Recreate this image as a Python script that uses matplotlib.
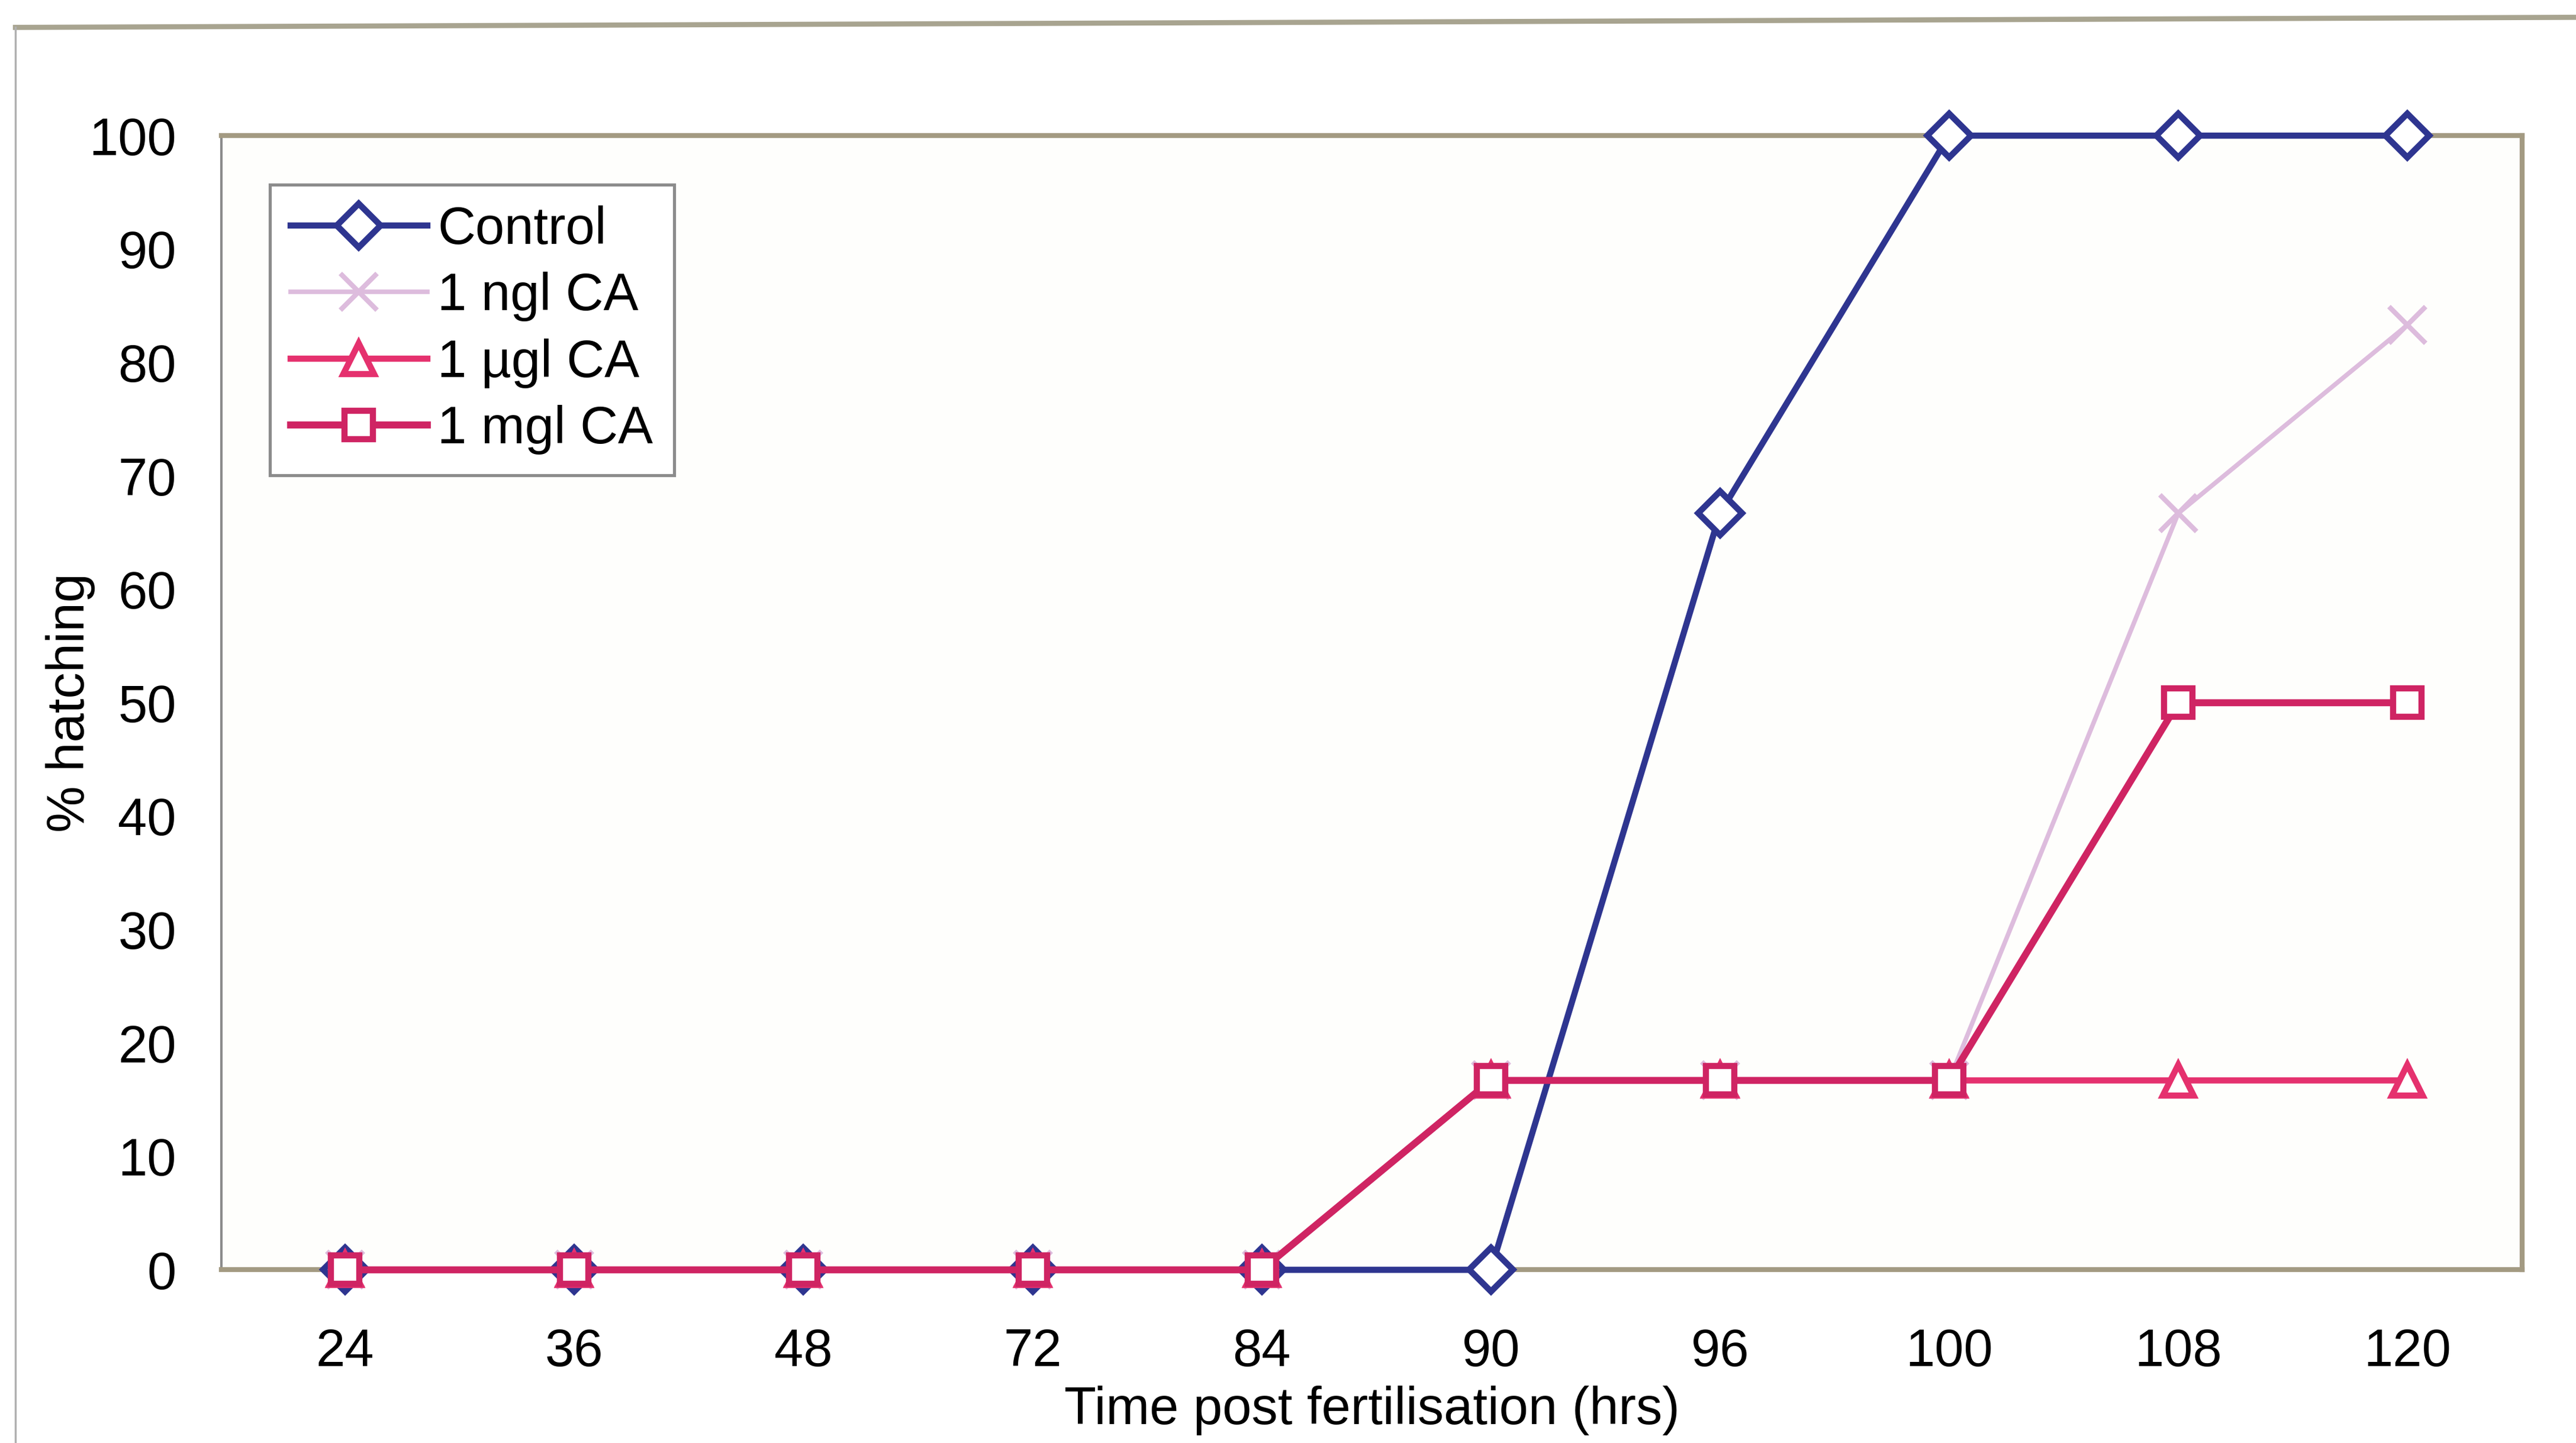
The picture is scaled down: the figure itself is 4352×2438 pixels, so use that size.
import matplotlib
matplotlib.use("Agg")
import matplotlib.pyplot as plt
from matplotlib.lines import Line2D

plt.rcParams['font.family'] = ['Liberation Sans', 'DejaVu Sans']

# data (% hatching at each time point)
times = ['24', '36', '48', '72', '84', '90', '96', '100', '108', '120']
control = [0, 0, 0, 0, 0, 0, 66.7, 100, 100, 100]
ngl_ca = [0, 0, 0, 0, 0, 16.7, 16.7, 16.7, 66.7, 83.3]
ugl_ca = [0, 0, 0, 0, 0, 16.7, 16.7, 16.7, 16.7, 16.7]
mgl_ca = [0, 0, 0, 0, 0, 16.7, 16.7, 16.7, 50, 50]

series = [
    ('Control', control, '#2E3590', 'D', 3.0, 15),
    ('1 ngl CA', ngl_ca, '#DDBCDD', 'x', 2.2, 18),
    ('1 \u00b5gl CA', ugl_ca, '#E5316E', '^', 3.0, 15),
    ('1 mgl CA', mgl_ca, '#CF2463', 's', 3.4, 14),
]

fig = plt.figure(figsize=(17.408, 9.752), dpi=250)
fig.patch.set_facecolor('white')
ax = fig.add_axes([0.086, 0.12, 0.893, 0.786])
ax.set_facecolor('#FEFEFC')

x = list(range(len(times)))
for name, vals, col, mk, lw, ms in series:
    if mk == 'x':
        ax.plot(x, vals, color=col, lw=lw, marker=mk, markersize=ms,
                markeredgewidth=2.4, label=name, zorder=2, clip_on=False)
    else:
        ax.plot(x, vals, color=col, lw=lw, marker=mk, markersize=ms,
                markerfacecolor='white', markeredgecolor=col,
                markeredgewidth=3.0, label=name, zorder=3, clip_on=False)

ax.set_xlim(-0.54, 9.5)
ax.set_ylim(0, 100)
ax.set_xticks(x)
ax.set_xticklabels(times)
ax.set_yticks(range(0, 101, 10))
ax.tick_params(axis='both', length=0, labelsize=25.5)
ax.tick_params(axis='x', pad=28)
ax.tick_params(axis='y', pad=22)

for side in ['top', 'right', 'bottom']:
    ax.spines[side].set_color('#A39A82')
    ax.spines[side].set_linewidth(2.4)
ax.spines['left'].set_color('#8C8C8C')
ax.spines['left'].set_linewidth(1.2)

ax.set_xlabel('Time post fertilisation (hrs)', fontsize=25.5, labelpad=4)
ax.set_ylabel('% hatching', fontsize=25.5, labelpad=-3)

leg = ax.legend(loc='upper left', bbox_to_anchor=(0.021, 0.957),
                borderaxespad=0, fontsize=25.5, handlelength=2.6,
                handletextpad=0.2, labelspacing=0.32, borderpad=0.4,
                fancybox=False, framealpha=1, edgecolor='#8C8C8C')
leg.get_frame().set_linewidth(1.5)

# outer chart-area border (top and left edges visible in the scan)
fig.add_artist(Line2D([0.006, 1.0], [0.981, 0.988], color='#A8A490', lw=2.5))
fig.add_artist(Line2D([0.006, 0.006], [0.0, 0.981], color='#B0B0B0', lw=1.0))

fig.savefig('out.png', dpi=250)
